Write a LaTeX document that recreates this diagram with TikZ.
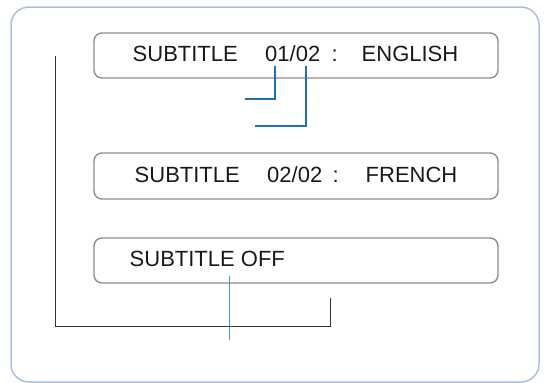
\documentclass[tikz,border=0pt]{standalone}
\usepackage{fontspec}
\setmainfont{Liberation Sans}
\definecolor{outerblue}{HTML}{ADBDE0}
\definecolor{boxgray}{HTML}{8C8C8C}
\definecolor{leadblue}{HTML}{1E6FBA}
\definecolor{leadblue2}{HTML}{3F93D0}
\begin{document}
\begin{tikzpicture}[x=1pt,y=-1pt,
  panel/.style={draw=outerblue,line width=1.5pt,rounded corners=18pt},
  osdbox/.style={draw=boxgray,line width=1.4pt,rounded corners=8pt,minimum width=404pt,inner sep=0pt},
  osdtext/.style={anchor=base west,inner sep=0pt,font=\fontsize{22}{26}\selectfont,text=black!90},
  leader/.style={draw=leadblue,line width=1.2pt},
  bracket/.style={draw=black!80,line width=1pt}]
\useasboundingbox (0,0) rectangle (544,383);
\draw[panel] (11,7) rectangle (539,382);
% boxes
\node[osdbox,minimum height=45pt] (box1) at (296,55.5) {};
\node[osdbox,minimum height=46pt] (box2) at (296,176) {};
\node[osdbox,minimum height=45pt] (box3) at (296,260.5) {};
% texts
\node[osdtext] (t1a) at (132.5,61) {SUBTITLE};
\node[osdtext] (t1b) at (265,61) {01/02};
\node[osdtext] (t1c) at (331.5,61) {:};
\node[osdtext] (t1d) at (361.5,61) {ENGLISH};
\node[osdtext] (t2a) at (134.5,182) {SUBTITLE};
\node[osdtext] (t2b) at (267,182) {02/02};
\node[osdtext] (t2c) at (332.5,182) {:};
\node[osdtext] (t2d) at (365.5,182) {FRENCH};
\node[osdtext] (t3a) at (129.5,266) {SUBTITLE OFF};
% leader lines
\coordinate (l1s) at (275,66);
\coordinate (l1c) at (275,99);
\coordinate (l1e) at (245,99);
\coordinate (l2s) at (306,66);
\coordinate (l2c) at (306,126);
\coordinate (l2e) at (255,126);
\coordinate (l3s) at (229.5,276);
\coordinate (l3e) at (229.5,340);
\draw[leader] (l1s) -- (l1c) -- (l1e);
\draw[leader] (l2s) -- (l2c) -- (l2e);
\draw[leader,draw=leadblue2] (l3s) -- (l3e);
% bracket
\coordinate (k1) at (55.5,56);
\coordinate (k2) at (55.5,326);
\coordinate (k3) at (330,326);
\coordinate (k4) at (330,298);
\draw[bracket] (k1) -- (k2) -- (k3) -- (k4);
\end{tikzpicture}
\end{document}
